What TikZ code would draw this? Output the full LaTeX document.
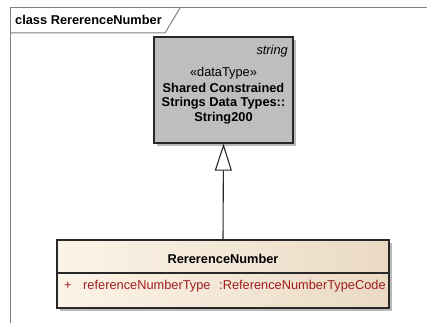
\documentclass[tikz,border=0pt]{standalone}
\usepackage{fontspec}
\setmainfont{Liberation Sans}
\usepackage{xcolor}
\usetikzlibrary{arrows.meta, shadows}

\definecolor{frameGray}{RGB}{128,128,128}
\definecolor{boxLine}{RGB}{40,40,40}
\definecolor{typeGray}{RGB}{190,190,190}
\definecolor{creamL}{RGB}{252,244,232}
\definecolor{creamR}{RGB}{234,218,196}
\definecolor{attrRed}{RGB}{160,30,30}

\tikzset{
  umlbox/.style={draw=boxLine, line width=1.3pt, rectangle, inner sep=0pt,
    drop shadow={shadow xshift=3pt, shadow yshift=-3pt, fill=gray!55, opacity=1}},
  txt/.style={inner sep=0pt, font=\fontsize{12.8}{15}\selectfont}
}

\begin{document}
\begin{tikzpicture}[x=1pt,y=-1pt]
\useasboundingbox (0,0) rectangle (427,323);
% frame
\draw[frameGray, line width=1pt] (427,8) -- (10,8) -- (10,323);
\draw[frameGray, line width=1pt] (10,33) -- (165,33) -- (180,8);
\node[txt, font=\fontsize{12.8}{15}\selectfont\bfseries, anchor=west] (title) at (15,20) {class RererenceNumber};
% datatype
\node[umlbox, fill=typeGray, minimum width=139pt, minimum height=106pt] (strbox) at (223.5,90) {};
\node[txt, font=\fontsize{12.8}{15}\selectfont\itshape, anchor=east] (stype) at (288,51) {string};
\node[txt] (stereo) at (223.5,73) {«dataType»};
\foreach \n/\y/\t in {s1/88/Shared Constrained, s2/103/Strings Data Types::, s3/118/String200} {
  \node[txt, font=\fontsize{12.8}{15}\selectfont\bfseries] (\n) at (223.5,\y) {\t};
}
% class
\node[umlbox, left color=creamL, right color=creamR, minimum width=332pt, minimum height=68pt] (refbox) at (223,274) {};
\draw[boxLine, line width=1.1pt] (refbox.west |- 0,273) -- (refbox.east |- 0,273);
\node[txt, font=\fontsize{12.8}{15}\selectfont\bfseries] (cname) at (223,259) {RererenceNumber};
\node[txt, text=attrRed, anchor=west] (vis) at (64,286) {+};
\node[txt, text=attrRed, anchor=west] (aname) at (83,286) {referenceNumberType};
\node[txt, text=attrRed, anchor=west] (atype) at (219,286) {:ReferenceNumberTypeCode};
% generalization
\draw[boxLine, line width=1.1pt, -{Triangle[open, length=27pt, width=17pt, fill=white]}] (refbox.north) -- (strbox.south);
\end{tikzpicture}
\end{document}
